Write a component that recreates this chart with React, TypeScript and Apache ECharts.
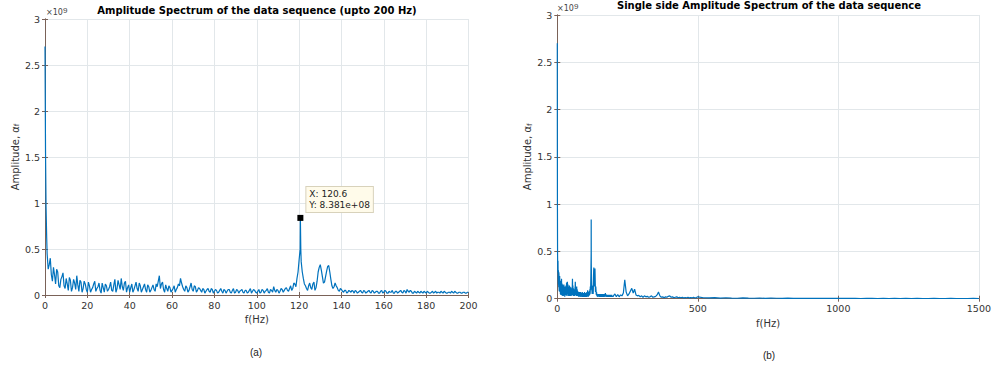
import React, { useEffect, useRef } from "react";
import * as echarts from "echarts";

// Amplitude (x1e9) at integer Hz, 0..200
const leftAmp = [
  2.70, 0.45, 0.33, 0.22, 0.30, 0.12, 0.25, 0.08, 0.20, 0.10,
  0.18, 0.05, 0.16, 0.08, 0.13, 0.21, 0.04, 0.14, 0.07, 0.12,
  0.03, 0.10, 0.06, 0.12, 0.04, 0.09, 0.05, 0.13, 0.03, 0.10,
  0.06, 0.14, 0.04, 0.17, 0.07, 0.11, 0.18, 0.05, 0.15, 0.08,
  0.03, 0.12, 0.06, 0.14, 0.04, 0.10, 0.06, 0.12, 0.03, 0.09,
  0.05, 0.11, 0.04, 0.09, 0.21, 0.12, 0.06, 0.11, 0.04, 0.08,
  0.05, 0.10, 0.06, 0.12, 0.18, 0.09, 0.04, 0.08, 0.05, 0.13,
  0.04, 0.09, 0.05, 0.07, 0.03, 0.06, 0.04, 0.07, 0.03, 0.06,
  0.04, 0.05, 0.03, 0.07, 0.02, 0.05, 0.04, 0.06, 0.02, 0.07,
  0.03, 0.05, 0.04, 0.06, 0.02, 0.05, 0.03, 0.07, 0.04, 0.05,
  0.02, 0.06, 0.03, 0.05, 0.04, 0.07, 0.02, 0.05, 0.09, 0.03,
  0.05, 0.04, 0.06, 0.05, 0.08, 0.04, 0.10, 0.07, 0.12, 0.18,
  0.38, 0.36, 0.18, 0.10, 0.05, 0.13, 0.06, 0.14, 0.08, 0.25,
  0.33, 0.20, 0.14, 0.26, 0.32, 0.17, 0.07, 0.13, 0.08, 0.04,
  0.06, 0.03, 0.05, 0.03, 0.04, 0.05, 0.02, 0.04, 0.03, 0.05,
  0.02, 0.04, 0.03, 0.05, 0.02, 0.04, 0.03, 0.04, 0.02, 0.05,
  0.03, 0.04, 0.02, 0.03, 0.05, 0.02, 0.04, 0.03, 0.05, 0.02,
  0.04, 0.06, 0.03, 0.04, 0.02, 0.03, 0.04, 0.02, 0.03, 0.04,
  0.02, 0.03, 0.02, 0.04, 0.03, 0.02, 0.03, 0.04, 0.02, 0.03,
  0.02, 0.03, 0.04, 0.02, 0.03, 0.02, 0.03, 0.02, 0.03, 0.02,
  0.03,
];

// Amplitude (x1e9) at half-Hz bins, 0.5..199.5
const leftAmpHalf = [
  0.95, 0.28, 0.40, 0.15, 0.22, 0.28, 0.10, 0.17, 0.24, 0.07,
  0.12, 0.19, 0.04, 0.17, 0.06, 0.11, 0.16, 0.03, 0.15, 0.06,
  0.14, 0.03, 0.08, 0.15, 0.07, 0.13, 0.02, 0.08, 0.12, 0.04,
  0.09, 0.05, 0.11, 0.03, 0.16, 0.06, 0.09, 0.13, 0.03, 0.11,
  0.08, 0.03, 0.10, 0.07, 0.13, 0.03, 0.09, 0.06, 0.11, 0.03,
  0.08, 0.06, 0.12, 0.15, 0.07, 0.14, 0.03, 0.07, 0.10, 0.03,
  0.07, 0.03, 0.08, 0.10, 0.13, 0.06, 0.10, 0.03, 0.09, 0.06,
  0.10, 0.03, 0.08, 0.05, 0.07, 0.02, 0.06, 0.04, 0.07, 0.02,
  0.06, 0.02, 0.05, 0.04, 0.06, 0.02, 0.06, 0.03, 0.05, 0.02,
  0.06, 0.02, 0.05, 0.03, 0.05, 0.02, 0.05, 0.02, 0.06, 0.03,
  0.04, 0.02, 0.06, 0.02, 0.05, 0.03, 0.06, 0.03, 0.05, 0.06,
  0.02, 0.07, 0.03, 0.07, 0.05, 0.07, 0.05, 0.13, 0.09, 0.25,
  0.50, 0.25, 0.12, 0.07, 0.10, 0.08, 0.12, 0.05, 0.15, 0.30,
  0.27, 0.13, 0.20, 0.31, 0.25, 0.10, 0.09, 0.10, 0.05, 0.07,
  0.04, 0.05, 0.02, 0.05, 0.03, 0.04, 0.05, 0.02, 0.04, 0.03,
  0.05, 0.02, 0.04, 0.03, 0.05, 0.02, 0.04, 0.02, 0.04, 0.02,
  0.05, 0.02, 0.04, 0.03, 0.02, 0.04, 0.02, 0.04, 0.03, 0.05,
  0.02, 0.04, 0.05, 0.02, 0.04, 0.02, 0.03, 0.04, 0.02, 0.03,
  0.04, 0.02, 0.03, 0.02, 0.04, 0.03, 0.02, 0.03, 0.04, 0.02,
  0.03, 0.02, 0.03, 0.04, 0.02, 0.03, 0.02, 0.03, 0.02, 0.03,
];

// extra detail points [Hz, amplitude x1e9]
const leftExtra: [number, number][] = [
  [0.25, 1.55], [0.8, 0.62], [120.6, 0.8381], [120.8, 0.50],
];

// 205..500 Hz, step 5 Hz
const wideAmp5 = [
  0.05, 0.02, 0.045, 0.02, 0.04, 0.03, 0.06, 0.20, 0.07, 0.03,
  0.05, 0.08, 0.11, 0.06, 0.10, 0.04, 0.03, 0.035, 0.02, 0.03,
  0.015, 0.03, 0.02, 0.025, 0.015, 0.02, 0.03, 0.015, 0.02, 0.025,
  0.04, 0.07, 0.03, 0.015, 0.02, 0.01, 0.02, 0.015, 0.025, 0.03,
  0.015, 0.02, 0.01, 0.015, 0.02, 0.01, 0.015, 0.01, 0.015, 0.008,
  0.012, 0.01, 0.015, 0.008, 0.012, 0.01, 0.015, 0.008, 0.012, 0.02,
];

// 520..1500 Hz, step 20 Hz
const wideAmp20 = [
  0.01, 0.008, 0.012, 0.006, 0.01, 0.007, 0.005, 0.008, 0.006, 0.005,
  0.007, 0.004, 0.006, 0.005, 0.004, 0.006, 0.004, 0.005, 0.003, 0.005,
  0.004, 0.003, 0.005, 0.003, 0.004, 0.003, 0.004, 0.003, 0.002, 0.004,
  0.003, 0.002, 0.003, 0.002, 0.003, 0.002, 0.003, 0.002, 0.003, 0.002,
  0.002, 0.003, 0.002, 0.002, 0.003, 0.002, 0.002, 0.002, 0.003, 0.002,
];

const tip: [number, number] = [120.6, 0.8381];

const leftTitle = "Amplitude Spectrum of the data sequence (upto 200 Hz)";
const rightTitle = "Single side Amplitude Spectrum of the data sequence";

const FONT = "DejaVu Sans";
const AX = "#7a6258";
const GRIDC = "#e2e7ea";
const LINE = "#0072BD";

export default function App() {
  const ref = useRef<HTMLDivElement>(null);
  useEffect(() => {
    if (!ref.current) return;
    const chart = echarts.init(ref.current, undefined, { renderer: "svg" });

    const leftPts: [number, number][] = leftAmp
      .map((a, i) => [i, a] as [number, number])
      .concat(leftAmpHalf.map((a, i) => [i + 0.5, a] as [number, number]))
      .concat(leftExtra)
      .sort((p, q) => p[0] - q[0]);
    const rightPts: [number, number][] = leftPts
      .concat(wideAmp5.map((a, i) => [205 + i * 5, a] as [number, number]))
      .concat(wideAmp20.map((a, i) => [520 + i * 20, a] as [number, number]));

    const fmtExp = (v: number) => {
      const s = v.toExponential(3);
      const [m, e] = s.split("e");
      const sign = e[0] === "-" ? "-" : "+";
      const d = e.replace(/[+-]/, "").padStart(2, "0");
      return `${m}e${sign}${d}`;
    };

    const label = { fontFamily: FONT, fontSize: 9.5, color: "#333" };
    const xMain = (grid: number, max: number, interval: number, gap: number) => ({
      type: "value",
      gridIndex: grid,
      min: 0,
      max,
      interval,
      position: "bottom",
      name: "f(Hz)",
      nameLocation: "middle",
      nameGap: gap,
      nameTextStyle: { fontFamily: FONT, fontSize: 10, color: "#333" },
      axisLine: { show: true, lineStyle: { color: AX, width: 1 } },
      axisTick: { show: true, inside: true, length: 3, lineStyle: { color: AX } },
      axisLabel: { ...label, margin: 5, formatter: (v: number) => String(v) },
      splitLine: { show: true, lineStyle: { color: GRIDC, width: 1 } },
    });
    const xTop = (grid: number, max: number, interval: number) => ({
      type: "value",
      gridIndex: grid,
      min: 0,
      max,
      interval,
      position: "top",
      axisLine: { show: true, lineStyle: { color: AX, width: 1 } },
      axisTick: { show: true, inside: true, length: 3, lineStyle: { color: AX } },
      axisLabel: { show: false },
      splitLine: { show: false },
    });
    const yMain = (grid: number, gap: number) => ({
      type: "value",
      gridIndex: grid,
      min: 0,
      max: 3,
      interval: 0.5,
      position: "left",
      name: "Amplitude, {a|α}{s|f}",
      nameLocation: "middle",
      nameGap: gap,
      nameRotate: 90,
      nameTextStyle: {
        fontFamily: FONT,
        fontSize: 10,
        color: "#333",
        rich: {
          a: { fontFamily: FONT, fontSize: 10, color: "#333" },
          s: { fontFamily: FONT, fontSize: 7, color: "#333", verticalAlign: "bottom", padding: [4, 0, 0, 0] },
        },
      },
      axisLine: { show: true, lineStyle: { color: AX, width: 1 } },
      axisTick: { show: true, inside: true, length: 3, lineStyle: { color: AX } },
      axisLabel: { ...label, margin: 5, formatter: (v: number) => String(+v.toFixed(2)) },
      splitLine: { show: true, lineStyle: { color: GRIDC, width: 1 } },
    });
    const yRight = (grid: number) => ({
      type: "value",
      gridIndex: grid,
      min: 0,
      max: 3,
      interval: 0.5,
      position: "right",
      axisLine: { show: true, lineStyle: { color: AX, width: 1 } },
      axisTick: { show: true, inside: true, length: 3, lineStyle: { color: AX } },
      axisLabel: { show: false },
      splitLine: { show: false },
    });

    chart.setOption({
      animation: false,
      backgroundColor: "#ffffff",
      title: [
        {
          text: leftTitle,
          left: 257,
          top: 5,
          padding: 0,
          textAlign: "center",
          textStyle: { fontFamily: FONT, fontSize: 10, fontWeight: "bold", color: "#000" },
        },
        {
          text: rightTitle,
          left: 769,
          top: 0,
          padding: 0,
          textAlign: "center",
          textStyle: { fontFamily: FONT, fontSize: 10, fontWeight: "bold", color: "#000" },
        },
      ],
      grid: [
        { left: 45, right: 525.5, top: 19, bottom: 77, show: false },
        { left: 557.3, right: 13.3, top: 15, bottom: 73.3, show: false },
      ],
      xAxis: [xMain(0, 200, 20, 14), xTop(0, 200, 20), xMain(1, 1500, 500, 16), xTop(1, 1500, 500)],
      yAxis: [yMain(0, 22), yRight(0), yMain(1, 23), yRight(1)],
      series: [
        {
          type: "line",
          xAxisIndex: 0,
          yAxisIndex: 0,
          data: leftPts,
          showSymbol: false,
          lineStyle: { color: LINE, width: 1.2 },
          z: 3,
          markPoint: {
            symbol: "rect",
            symbolSize: 6,
            itemStyle: { color: "#000" },
            data: [
              {
                coord: tip,
                label: {
                  show: true,
                  formatter: `X: ${tip[0]}\nY: ${fmtExp(tip[1] * 1e9)}`,
                  position: [9, -28],
                  align: "left",
                  verticalAlign: "top",
                  fontFamily: FONT,
                  fontSize: 9,
                  lineHeight: 11,
                  color: "#222",
                  backgroundColor: "#fffbea",
                  borderColor: "#d8d2bb",
                  borderWidth: 1,
                  padding: [2, 3, 1, 3],
                },
              },
            ],
          },
        },
        {
          type: "line",
          xAxisIndex: 2,
          yAxisIndex: 2,
          data: rightPts,
          showSymbol: false,
          lineStyle: { color: LINE, width: 1.2 },
          z: 3,
        },
      ],
      graphic: [
        {
          type: "text",
          left: 46,
          top: 6,
          style: { text: "×10{s|9}", fontFamily: FONT, fontSize: 8, fill: "#444", rich: { s: { fontSize: 8, fill: "#444", verticalAlign: "top", padding: [0, 0, 4, 0] } } },
        },
        {
          type: "text",
          left: 557,
          top: 2,
          style: { text: "×10{s|9}", fontFamily: FONT, fontSize: 8, fill: "#444", rich: { s: { fontSize: 8, fill: "#444", verticalAlign: "top", padding: [0, 0, 4, 0] } } },
        },
        {
          type: "text",
          x: 256,
          y: 352,
          style: { text: "(a)", fontFamily: "Liberation Sans", fontSize: 10, fill: "#222", align: "center", verticalAlign: "middle" },
        },
        {
          type: "text",
          x: 769,
          y: 355,
          style: { text: "(b)", fontFamily: "Liberation Sans", fontSize: 10, fill: "#222", align: "center", verticalAlign: "middle" },
        },
      ],
    });
    return () => chart.dispose();
  }, []);
  return <div ref={ref} style={{ position: "fixed", left: 0, top: 0, width: 994, height: 372 }} />;
}
